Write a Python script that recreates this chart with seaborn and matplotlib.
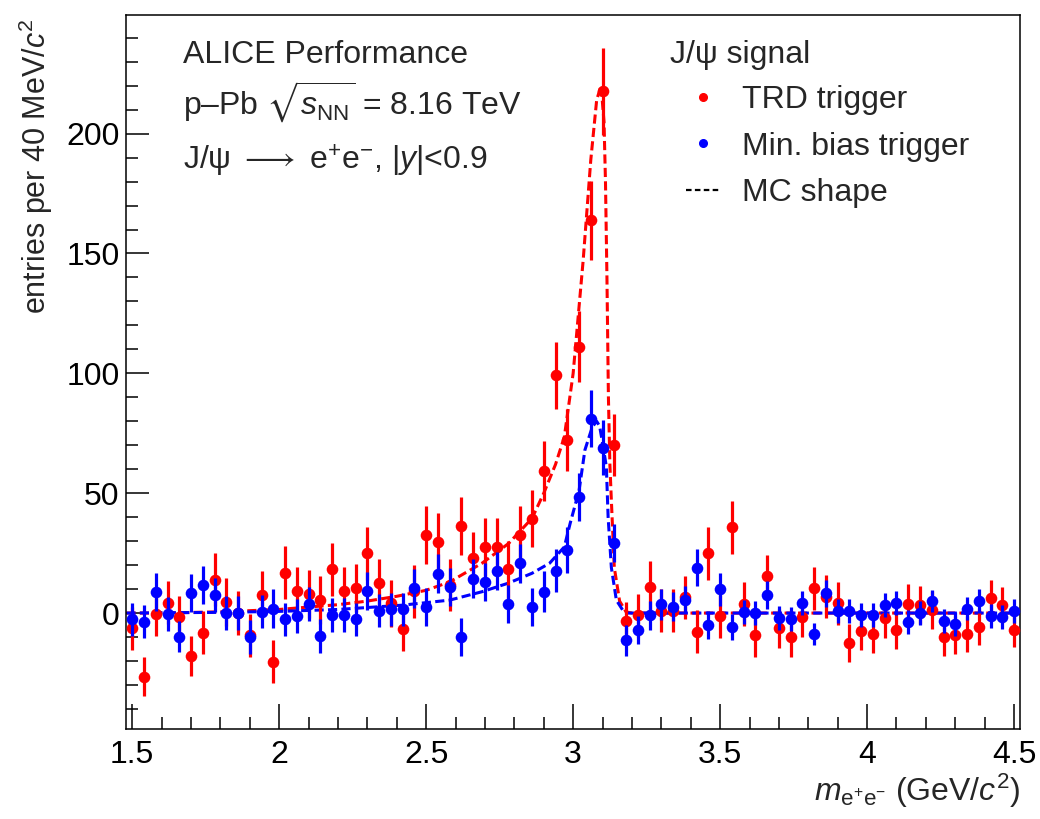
import numpy as np
import matplotlib
matplotlib.use("Agg")
import matplotlib.pyplot as plt
from matplotlib.lines import Line2D
from matplotlib.ticker import MultipleLocator, FuncFormatter
import seaborn as sns

# ---------------- data ----------------
bin_low, bin_high, bin_width = 1.48, 4.52, 0.04
mass = np.round(np.arange(bin_low + bin_width / 2, bin_high, bin_width), 3)  # 76 bin centres

trd_counts = [-6.4, -26.5, -0.4, 4.3, -1.8, -17.9, -8.2, 14.0, 4.7, 0.0,
              -9.2, 7.5, -20.3, 16.8, 9.3, 7.9, 5.4, 18.2, 9.3, 10.3,
              24.9, 12.4, 4.0, -6.8, 9.0, 32.5, 29.7, 11.7, 36.3, 22.8,
              27.6, 27.6, 18.2, 32.5, 39.4, 59.3, 99.2, 72.2, 111.2, 163.8,
              217.6, 70.0, -3.4, -1.0, 10.7, 1.0, 1.0, 6.5, -7.8, 24.9,
              -1.3, 35.8, 3.8, -9.2, 15.4, -6.4, -9.9, -1.8, 10.3, 6.8,
              4.0, -12.6, -7.4, -8.8, -2.2, -7.1, 3.8, 3.3, 1.3, -9.9,
              -9.2, -8.8, -6.0, 6.1, 3.3, -7.1]
trd_errors = [9, 8, 9, 9, 9, 8.5, 9, 11, 10, 9,
              9, 10, 9, 11, 10, 10, 10, 11, 10, 10,
              11, 10, 10, 9, 11, 12, 12, 11, 12, 11,
              12, 12, 12, 12, 12, 12.5, 14, 13, 15, 16.5,
              18, 13, 8, 9, 11, 9, 9, 9, 9, 11,
              9, 11, 9, 9, 9, 8, 8.5, 8, 9, 9,
              9, 8, 8, 8, 8, 8, 8.5, 8, 8, 8,
              8, 7.5, 7.5, 7.5, 7.5, 7]

mb_counts = [-2.6, -3.6, 8.9, -0.4, -9.9, 8.5, 11.7, 7.5, 0.1, 0.0,
             -9.9, 0.6, 1.9, -2.6, -1.2, 3.8, -9.6, -0.8, -0.8, -2.6,
             9.3, 1.0, 1.5, 1.5, 10.3, 2.4, 16.5, 11.0, -9.9, 14.4,
             13.0, 17.6, 3.8, 20.7, 2.4, 8.9, 17.6, 26.3, 48.5, 81.1,
             69.0, 29.3, -11.3, -7.1, -1.0, 3.6, 2.6, 5.4, 18.9, -5.0,
             9.9, -5.7, 0.6, -0.1, 7.5, -2.2, -2.6, 4.0, -8.8, 8.2,
             1.0, 1.0, -0.8, -0.8, 3.3, 4.3, -3.6, -0.1, 5.1, -3.3,
             -4.6, 1.9, 5.1, -1.3, -1.8, 0.8]
mb_errors = [7, 7, 8, 7, 6.5, 8, 8, 7, 7, 7,
             7, 7, 8, 7, 7, 7, 7, 7, 7, 7,
             8, 7, 7, 7, 8, 8, 8, 8, 8, 8,
             8, 8, 8, 8, 8, 8.5, 9, 9.5, 10, 12,
             11.5, 8, 6.5, 6, 6, 6.3, 6, 6, 7.8, 6,
             7, 5.5, 5, 5, 6, 5, 5, 5, 4.5, 5.5,
             5, 5, 5, 5, 5, 5, 5, 5, 4.5, 5,
             5, 5, 5, 5, 5, 5]

# MC line shapes
mc_trd_mass = [1.48, 1.60, 1.80, 1.90, 2.00, 2.10, 2.20, 2.30, 2.40, 2.50,
               2.58, 2.69, 2.78, 2.86, 2.90, 2.94, 2.97, 3.00, 3.034, 3.06,
               3.08, 3.095, 3.105, 3.11, 3.115, 3.12, 3.125, 3.13, 3.14, 3.158,
               3.18, 3.20, 4.52]
mc_trd_shape = [0, 0, 0.5, 1, 1.5, 2.5, 3.5, 5, 7, 9.5,
                13, 20.8, 29, 39.5, 50, 62, 73.5, 100, 147, 189,
                214, 220, 205, 180, 140, 90, 62, 47, 19, 5,
                0.5, 0, 0]
mc_mb_mass = [1.48, 1.80, 2.00, 2.20, 2.42, 2.58, 2.69, 2.78, 2.86, 2.92,
              2.97, 2.99, 3.02, 3.04, 3.065, 3.08, 3.09, 3.10, 3.113, 3.119,
              3.13, 3.147, 3.175, 3.20, 4.52]
mc_mb_shape = [0, 0.3, 0.7, 1.5, 3.3, 5.4, 8.9, 12.5, 16.6, 20.8,
               27.6, 37.5, 51, 68, 77.6, 80, 78, 71, 61, 40,
               19, 5.4, 0, 0, 0]

legend_title = "J/ψ signal"
legend_labels = ["TRD trigger", "Min. bias trigger", "MC shape"]

# ---------------- style ----------------
sns.set_theme(style="ticks")
plt.rcParams["font.family"] = ["Liberation Sans", "DejaVu Sans"]
plt.rcParams["mathtext.fontset"] = "custom"
plt.rcParams["mathtext.rm"] = "Liberation Sans"
plt.rcParams["mathtext.it"] = "Liberation Sans:italic"
plt.rcParams["mathtext.bf"] = "Liberation Sans:bold"
plt.rcParams["mathtext.sf"] = "Liberation Sans"
plt.rcParams["mathtext.fallback"] = "stixsans"
plt.rcParams["axes.edgecolor"] = "black"
plt.rcParams["axes.linewidth"] = 1.1

FS = 23
RED = "#ff0000"
BLUE = "#0000ff"
DASH = (0, (3.0, 1.4))

fig = plt.figure(figsize=(10.4, 8.19), dpi=100)
ax = fig.add_axes([0.1215, 0.1095, 0.8592, 0.8722])
ax.set_facecolor("white")

# MC shapes
sns.lineplot(x=mc_trd_mass, y=mc_trd_shape, color=RED, lw=2.2, linestyle=DASH,
             ax=ax, zorder=2, sort=False)
sns.lineplot(x=mc_mb_mass, y=mc_mb_shape, color=BLUE, lw=2.2, linestyle=DASH,
             ax=ax, zorder=2, sort=False)

# TRD trigger
ax.errorbar(mass, trd_counts, yerr=trd_errors, fmt="none", ecolor=RED,
            elinewidth=2.3, capsize=0, zorder=3)
sns.scatterplot(x=mass, y=trd_counts, color=RED, s=70, linewidth=0,
                marker="o", ax=ax, zorder=4, legend=False)
# Minimum bias trigger
ax.errorbar(mass, mb_counts, yerr=mb_errors, fmt="none", ecolor=BLUE,
            elinewidth=2.3, capsize=0, zorder=5)
sns.scatterplot(x=mass, y=mb_counts, color=BLUE, s=70, linewidth=0,
                marker="o", ax=ax, zorder=6, legend=False)

# axes
ax.set_xlim(1.48, 4.52)
ax.set_ylim(-48.5, 249.5)
ax.xaxis.set_major_locator(MultipleLocator(0.5))
ax.xaxis.set_minor_locator(MultipleLocator(0.1))
ax.yaxis.set_major_locator(MultipleLocator(50))
ax.yaxis.set_minor_locator(MultipleLocator(10))
ax.xaxis.set_major_formatter(FuncFormatter(lambda v, p: f"{v:g}"))
ax.yaxis.set_major_formatter(FuncFormatter(lambda v, p: f"{v:g}"))
ax.tick_params(which="both", direction="in", top=False, right=False,
               colors="black", labelsize=FS, width=1.1)
ax.tick_params(axis="x", which="major", length=18, pad=8)
ax.tick_params(axis="x", which="minor", length=9)
ax.tick_params(axis="y", which="major", length=16.5, pad=5)
ax.tick_params(axis="y", which="minor", length=8.4)
for s in ax.spines.values():
    s.set_visible(True)
    s.set_color("black")
    s.set_linewidth(1.1)

ax.set_ylabel("entries per 40 MeV/$c^{2}$", fontsize=22, loc="top")
ax.yaxis.set_label_coords(-0.080, 0.996)
ax.set_xlabel(r"$m_{\mathrm{e^{+}e^{-}}}$ (GeV/$c^{2}$)", fontsize=FS, loc="right")
ax.xaxis.set_label_coords(1.0, -0.060)

# header text
tx = 0.0633
ax.text(tx, 0.9328, "ALICE Performance", transform=ax.transAxes, fontsize=FS,
        va="baseline", ha="left")
ax.text(tx, 0.8599, r"p–Pb $\sqrt{s_{\mathrm{NN}}}$ = 8.16 TeV", transform=ax.transAxes,
        fontsize=FS, va="baseline", ha="left")
ax.text(tx, 0.7829, r"J/ψ $\longrightarrow$ e$^{+}$e$^{-}$, |$y$|<0.9", transform=ax.transAxes,
        fontsize=FS, va="baseline", ha="left")

# legend
ax.text(0.608, 0.9328, legend_title, transform=ax.transAxes, fontsize=FS,
        va="baseline", ha="left")
handles = [Line2D([], [], ls="none", marker="o", color=RED, ms=5.5),
           Line2D([], [], ls="none", marker="o", color=BLUE, ms=5.5),
           Line2D([], [], color="black", lw=1.6, ls=(0, (2.5, 1.5)))]
leg = ax.legend(handles, legend_labels, loc="upper left", bbox_to_anchor=(0.626, 0.902),
                frameon=False, fontsize=FS, borderpad=0, borderaxespad=0,
                handlelength=1.1, handletextpad=0.65, labelspacing=0.52)

fig.savefig("out.png", dpi=100, facecolor="white")
